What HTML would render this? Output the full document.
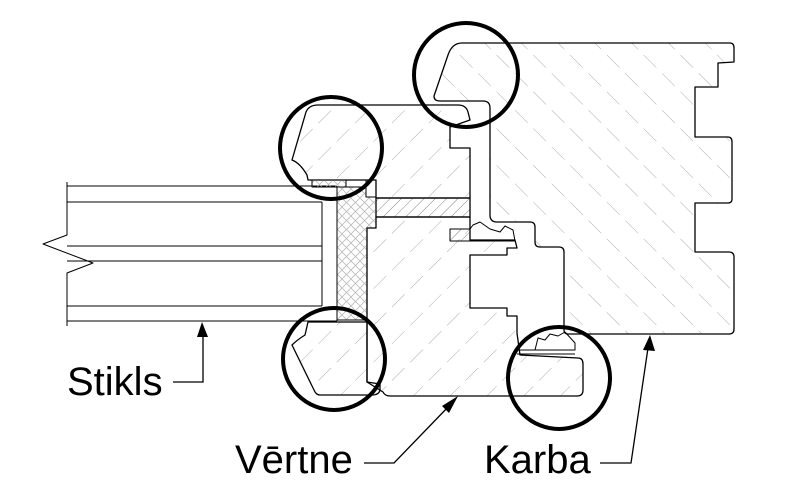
<!DOCTYPE html>
<html><head><meta charset="utf-8"><style>
html,body{margin:0;padding:0;background:#fff;}
svg{display:block;}
text{font-family:"Liberation Sans",Arial,sans-serif;fill:#000;}
</style></head><body>
<svg width="792" height="502" viewBox="0 0 792 502" xmlns="http://www.w3.org/2000/svg">
<defs>
<pattern id="hf" patternUnits="userSpaceOnUse" width="26" height="26" patternTransform="rotate(-45)">
<line x1="0" y1="0" x2="0" y2="26" stroke="#999" stroke-width="0.8" stroke-dasharray="18 8"/>
</pattern>
<pattern id="hs" patternUnits="userSpaceOnUse" width="26" height="26" patternTransform="rotate(45)">
<line x1="0" y1="0" x2="0" y2="26" stroke="#999" stroke-width="0.8" stroke-dasharray="18 8"/>
</pattern>
<pattern id="hd" patternUnits="userSpaceOnUse" width="8" height="8" patternTransform="rotate(45)">
<line x1="0" y1="0" x2="0" y2="8" stroke="#777" stroke-width="0.9"/>
</pattern>
<pattern id="hx" patternUnits="userSpaceOnUse" width="9" height="9">
<path d="M0 0L9 9M9 0L0 9" stroke="#bbb" stroke-width="0.8"/>
</pattern>
</defs>
<g fill="none" stroke="#000" stroke-width="1.3" stroke-linejoin="round">
<path d="M67 186H337M67 202H322M67 246H322M67 261H322M67 306H322M67 321H337" stroke-width="1"/>
<path d="M67 182V235L43 244L93 263L67 273V326" stroke-width="1"/>
<path d="M322 202V306M337 186V321" stroke-width="1"/>
<path fill="url(#hf)" d="M462 43L730 43Q734 43 734 48L734 62L718 63L718 87L695 87L695 137L728 137Q732 137 732 142L732 199Q732 203 728 203L695 203L695 252L729 252Q734 252 734 257L734 329Q734 334 729 334L568 334Q564 334 564 330L564 252Q564 247 559 247L540 247Q535 247 535 242L535 227Q535 222 530 222L497 222Q490 222 490 215L490 108Q490 101 483 101L440 101Q434 101 434 96L448 55Q452 43 462 43Z"/>
<path fill="url(#hs)" d="M318 105L458 105Q466 105 468 112L470 120L450 127L450 148L470 148L470 198L376 198L376 180L366 180L308 180L307 175Q300 163 292 160L306 112Q309 105 318 105Z"/>
<path fill="url(#hd)" d="M376 198H470V217H376Z"/>
<path fill="url(#hx)" d="M312 180H346V187H312Z" stroke-width="1"/>
<path d="M346 180H366V187H346Z" stroke-width="1"/>
<path fill="url(#hx)" d="M337 187H366V197H376V228H367V320H337Z" stroke-width="1"/>
<path fill="url(#hs)" d="M376 217H470V240L515 240L517 248L507 248L507 255L470 255L470 262L470 308L507 308L507 316L517 316L517 333L520 355L578 358Q583 358 583 364L583 390Q583 396 577 396L390 396Q385 396 383 392L367 382L367 228L376 228Z"/>
<path fill="url(#hs)" d="M308 322L367 322L367 382L380 384L380 390Q379 395 372 395L320 395Q316 395 314 390L292 345Q297 340 305 335Z"/>
<path d="M450 229H470V241H450Z" fill="url(#hd)" stroke-width="1"/>
<path d="M470 241L515 241L513 230L505 226L500 232L490 229L480 222L473 225L470 229" stroke-width="1"/>
<path d="M517 350L575 350L575 343L565 332L558 336L550 334L545 340L538 338L535 350M517 354H575" stroke-width="1"/>
</g>
<g fill="none" stroke="#000" stroke-width="4">
<circle cx="331" cy="148" r="51"/>
<circle cx="466" cy="75" r="52"/>
<circle cx="334" cy="359" r="51"/>
<circle cx="559" cy="378" r="51"/>
</g>
<g fill="none" stroke="#000" stroke-width="1.3">
<path d="M173 382H203V335"/>
<path d="M364 463H394L450 405"/>
<path d="M600 463H631L648 348"/>
</g>
<g fill="#000">
<path d="M202 322L197 337H208Z"/>
<path d="M458 396L442 406L449 413Z"/>
<path d="M650 335L643 350L655 351Z"/>
</g>
<text x="67" y="395" font-size="40">Stikls</text>
<text x="235" y="473" font-size="40">Vērtne</text>
<text x="484" y="473" font-size="40">Karba</text>
</svg>
</body></html>
